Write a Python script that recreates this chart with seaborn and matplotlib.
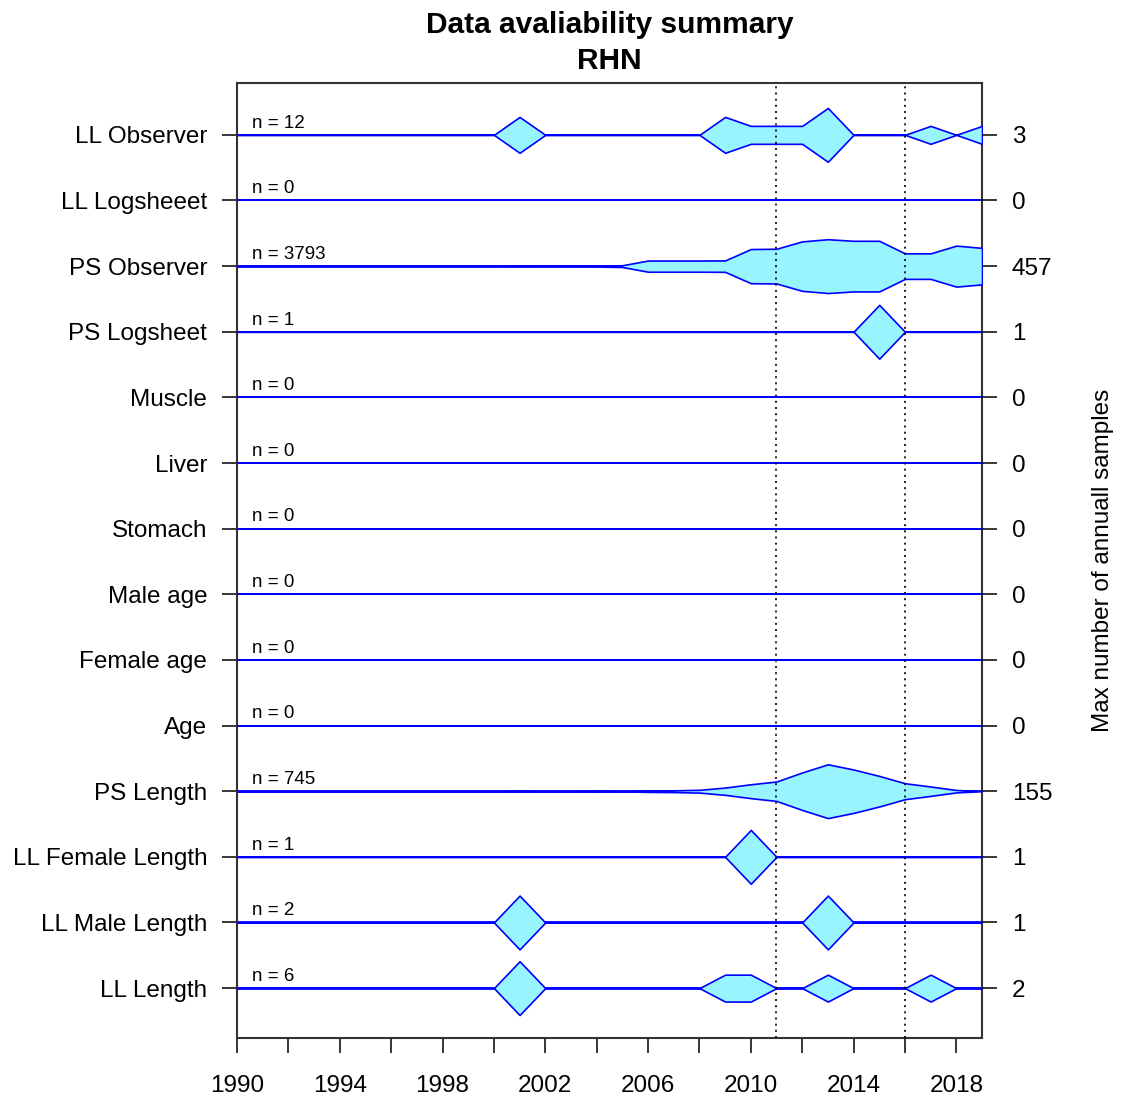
import numpy as np
import pandas as pd
import seaborn as sns
import matplotlib
matplotlib.use("Agg")
import matplotlib.pyplot as plt

# ---------------- data ----------------
years = list(range(1990, 2020))

categories = ["LL Observer", "LL Logsheeet", "PS Observer", "PS Logsheet", "Muscle",
              "Liver", "Stomach", "Male age", "Female age", "Age", "PS Length",
              "LL Female Length", "LL Male Length", "LL Length"]

n_labels = [12, 0, 3793, 1, 0, 0, 0, 0, 0, 0, 745, 1, 2, 6]

#                 1990 ...                                    2000                                          2010                                        2019
ll_observer     = [0, 0, 0, 0, 0, 0, 0, 0, 0, 0,  0, 2, 0, 0, 0, 0, 0, 0, 0, 2,   1, 1, 1, 3, 0, 0, 0, 1, 0, 1]
ll_logsheet     = [0] * 30
ps_observer     = [0, 0, 0, 0, 0, 0, 0, 0, 0, 0,  0, 8, 5, 8, 8, 15, 95, 95, 95, 97,  290, 295, 420, 457, 430, 430, 217, 217, 348, 310]
ps_logsheet     = [0, 0, 0, 0, 0, 0, 0, 0, 0, 0,  0, 0, 0, 0, 0, 0, 0, 0, 0, 0,   0, 0, 0, 0, 0, 1, 0, 0, 0, 0]
muscle          = [0] * 30
liver           = [0] * 30
stomach         = [0] * 30
male_age        = [0] * 30
female_age      = [0] * 30
age             = [0] * 30
ps_length       = [0, 0, 0, 0, 0, 0, 0, 0, 0, 0,  0, 3, 0, 0, 3, 0, 4, 5, 8, 21,   40, 56, 108, 155, 125, 88, 46, 27, 7, 0]
ll_female_len   = [0, 0, 0, 0, 0, 0, 0, 0, 0, 0,  0, 0, 0, 0, 0, 0, 0, 0, 0, 0,   1, 0, 0, 0, 0, 0, 0, 0, 0, 0]
ll_male_len     = [0, 0, 0, 0, 0, 0, 0, 0, 0, 0,  0, 1, 0, 0, 0, 0, 0, 0, 0, 0,   0, 0, 0, 1, 0, 0, 0, 0, 0, 0]
ll_length       = [0, 0, 0, 0, 0, 0, 0, 0, 0, 0,  0, 2, 0, 0, 0, 0, 0, 0, 0, 1,   1, 0, 0, 1, 0, 0, 0, 1, 0, 0]

series = [ll_observer, ll_logsheet, ps_observer, ps_logsheet, muscle, liver, stomach,
          male_age, female_age, age, ps_length, ll_female_len, ll_male_len, ll_length]

ref_years = [2011, 2016]

# ---------------- style ----------------
sns.set_theme(style="white")
plt.rcParams["font.family"] = ["Liberation Sans", "DejaVu Sans"]

fig = plt.figure(figsize=(11.21, 11.01), dpi=100)
ax = fig.add_axes([237 / 1121, 1 - 1038 / 1101, (982 - 237) / 1121, (1038 - 83) / 1101])

FILL = "#98F5FF"
EDGE = "#0000FF"
half = 0.41

rows = np.arange(1, len(categories) + 1)
long = pd.DataFrame({
    "category": np.repeat(categories, len(years)),
    "row": np.repeat(rows, len(years)),
    "year": np.tile(years, len(categories)),
    "value": np.concatenate([np.asarray(s, float) for s in series]),
})
long["max"] = long.groupby("category")["value"].transform("max")
long["w"] = np.where(long["max"] > 0, long["value"] / long["max"].replace(0, 1) * half, 0.0)

# baseline lines
base = long.copy()
base["y"] = base["row"].astype(float)
sns.lineplot(data=base, x="year", y="y", units="category", estimator=None,
             color=EDGE, lw=1.3, ax=ax, zorder=2, legend=False)

for cat, r in zip(categories, rows):
    d = long[long["category"] == cat]
    ax.fill_between(d["year"], r - d["w"], r + d["w"], facecolor=FILL,
                    edgecolor=EDGE, linewidth=1.2, zorder=3)

for yr in ref_years:
    ax.axvline(yr, color="black", lw=1.2, linestyle=(0, (1.2, 2.5)), zorder=4)

for n, r in zip(n_labels, rows):
    ax.text(1990.6, r - 0.11, f"n = {n}", fontsize=13.5, ha="left", va="baseline",
            color="black", zorder=5)

ax.set_xlim(1990, 2019)
ax.set_ylim(14.76, 0.21)
ax.set_xlabel("")
ax.set_ylabel("")

xt = list(range(1990, 2019, 2))
ax.set_xticks(xt)
ax.set_xticklabels([str(t) if (t - 1990) % 4 == 0 else "" for t in xt], fontsize=17.5)
ax.set_yticks(rows)
ax.set_yticklabels(categories, fontsize=17.5, va="center_baseline")
ax.tick_params(axis="both", which="major", direction="out", length=10.5, width=1.1,
               color="black", labelcolor="black", bottom=True, left=True)
ax.tick_params(axis="x", pad=16)
ax.tick_params(axis="y", pad=11)

for s in ax.spines.values():
    s.set_visible(True)
    s.set_color("#333333")
    s.set_linewidth(1.5)

ax2 = ax.twinx()
ax2.set_ylim(ax.get_ylim())
maxes = [int(max(s)) for s in series]
ax2.set_yticks(rows)
ax2.set_yticklabels([str(m) for m in maxes], fontsize=17.5, va="center_baseline")
ax2.tick_params(axis="y", direction="out", length=10.5, width=1.1, color="black",
                labelcolor="black", pad=11, right=True)
ax2.grid(False)
for s in ax2.spines.values():
    s.set_visible(False)

ax.set_title("Data avaliability summary\nRHN", fontsize=21.5, fontweight="bold",
             pad=10, linespacing=1.35, color="black")

fig.text(1103 / 1121, 1 - 560 / 1101, "Max number of annuall samples", rotation=90,
         ha="center", va="center", fontsize=17.5, color="black")

fig.savefig("out.png", dpi=100, facecolor="white")
